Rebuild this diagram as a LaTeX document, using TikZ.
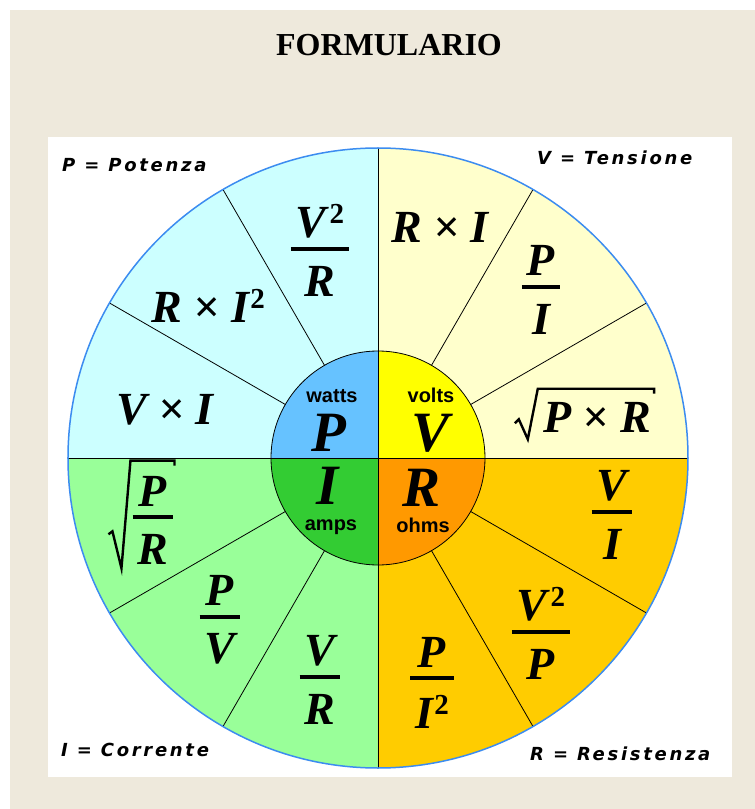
\documentclass[tikz,border=0pt]{standalone}
\usepackage{fontspec}
\setmainfont{Liberation Serif}
\newfontfamily\unitfont{Liberation Sans}
\newfontfamily\keyfont{DejaVu Sans Bold Oblique}[LetterSpace=15]
\usetikzlibrary{calc}

\definecolor{paper}{RGB}{238,233,220}
\definecolor{powerL}{RGB}{204,255,255}
\definecolor{voltL}{RGB}{255,255,204}
\definecolor{resL}{RGB}{255,204,0}
\definecolor{currL}{RGB}{153,255,153}
\definecolor{powerD}{RGB}{102,194,255}
\definecolor{voltD}{RGB}{255,255,0}
\definecolor{resD}{RGB}{255,153,0}
\definecolor{currD}{RGB}{51,204,51}
\definecolor{rimblue}{RGB}{60,140,240}

\newsavebox\numbox
\newsavebox\denbox
\newlength\barwd
\newcommand{\fr}[2]{%
  \sbox\numbox{#1}\sbox\denbox{#2}%
  \setlength\barwd{\wd\numbox}%
  \ifdim\wd\denbox>\barwd\setlength\barwd{\wd\denbox}\fi
  \addtolength\barwd{10pt}%
  \vbox{\offinterlineskip
    \hbox to\barwd{\hss\usebox\numbox\hss}\vskip9pt
    \hrule height4pt\vskip15pt
    \hbox to\barwd{\hss\usebox\denbox\hss}}}
\newcommand{\pwr}[1]{#1\/\raisebox{14pt}{\fontsize{29}{29}\selectfont\upshape 2}}

\begin{document}
\begin{tikzpicture}[x=1pt, y=1pt,
  frm/.style={font=\fontsize{46}{48}\selectfont\bfseries\itshape, inner sep=0pt},
  sym/.style={font=\fontsize{57}{57}\selectfont\bfseries\itshape, inner sep=0pt, anchor=base},
  unit/.style={font=\unitfont\bfseries\fontsize{20}{20}\selectfont, inner sep=0pt, anchor=base},
  key/.style={font=\keyfont\fontsize{18}{18}\selectfont, inner sep=0pt, anchor=base west},
  spoke/.style={line width=0.8pt},
  rad/.style={line width=2.4pt, line join=miter}
]
  \useasboundingbox (-378,-351) rectangle (377,458);
  \fill[paper] (-378,-351) rectangle (377,458);
  \fill[white] (-378,448) rectangle (377,458);
  \fill[white] (-378,-351) rectangle (-368,458);
  \fill[white] (-330,-319) rectangle (354,321);

  \node[font=\fontsize{32}{32}\selectfont\bfseries, anchor=base] (title) at (11,402) {FORMULARIO};

  \coordinate (O) at (0,0);
  \fill[voltL]  (O) -- (0:310) arc[start angle=0, end angle=90, radius=310] -- cycle;
  \fill[powerL] (O) -- (90:310) arc[start angle=90, end angle=180, radius=310] -- cycle;
  \fill[currL]  (O) -- (180:310) arc[start angle=180, end angle=270, radius=310] -- cycle;
  \fill[resL]   (O) -- (270:310) arc[start angle=270, end angle=360, radius=310] -- cycle;

  \fill[voltD]  (O) -- (0:107) arc[start angle=0, end angle=90, radius=107] -- cycle;
  \fill[powerD] (O) -- (90:107) arc[start angle=90, end angle=180, radius=107] -- cycle;
  \fill[currD]  (O) -- (180:107) arc[start angle=180, end angle=270, radius=107] -- cycle;
  \fill[resD]   (O) -- (270:107) arc[start angle=270, end angle=360, radius=107] -- cycle;

  \draw[spoke] (180:310) -- (0:310);
  \draw[spoke] (270:310) -- (90:310);
  \foreach \a in {30,60,120,150,210,240,300,330}
    \draw[spoke] (\a:107) -- (\a:310);
  \draw[spoke] (O) circle[radius=107];
  \draw[rimblue, line width=1.5pt] (O) circle[radius=310];

  \node[unit] (watts) at (-46,56) {watts};
  \node[sym] (P) at (-49,7) {P};
  \node[unit] (volts) at (53,56) {volts};
  \node[sym] (V) at (53,7) {V};
  \node[sym] (I) at (-50,-46) {I};
  \node[unit] (amps) at (-47,-72) {amps};
  \node[sym] (R) at (44,-48) {R};
  \node[unit] (ohms) at (45,-74) {ohms};

  \node[frm] (vRI) at (62,231) {R × I};
  \node[frm] (vPI) at (163,168) {\fr{P}{I}};
  \node[frm] (vPR) at (219,41) {P × R};
  \node[frm] (pVR) at (-58,208) {\fr{\pwr{V}}{R}};
  \node[frm] (pRI) at (-170,152) {R × \pwr{I}};
  \node[frm] (pVI) at (-213,48) {V × I};
  \node[frm] (iPR) at (-225,-62) {\fr{P}{R}};
  \node[frm] (iPV) at (-158,-162) {\fr{P}{V}};
  \node[frm] (iVR) at (-58,-222) {\fr{V}{R}};
  \node[frm] (rPI) at (54,-225) {\fr{P}{\pwr{I}}};
  \node[frm] (rVP) at (163,-175) {\fr{\pwr{V}}{P}};
  \node[frm] (rVI) at (234,-57) {\fr{V}{I}};

  \draw[rad] ([xshift=-28pt,yshift=9pt]vPR.south west) -- ([xshift=-24pt,yshift=13pt]vPR.south west)
    -- ([xshift=-15pt,yshift=-7pt]vPR.south west) -- ([xshift=-5pt,yshift=13pt]vPR.north west)
    -- ([xshift=3pt,yshift=13pt]vPR.north east) -- ++(0,-5);
  \draw[rad] ([xshift=-24pt,yshift=30pt]iPR.south west) -- ([xshift=-20pt,yshift=33pt]iPR.south west)
    -- ([xshift=-11pt,yshift=-4pt]iPR.south west) -- ([xshift=-2pt,yshift=15pt]iPR.north west)
    -- ([xshift=1pt,yshift=15pt]iPR.north east) -- ++(0,-5);

  \node[key] (keyP) at (-316,286) {P = Potenza};
  \node[key] (keyV) at (159,293) {V = Tensione};
  \node[key] (keyI) at (-317,-298) {I = Corrente};
  \node[key] (keyR) at (152,-302) {R = Resistenza};
\end{tikzpicture}
\end{document}
